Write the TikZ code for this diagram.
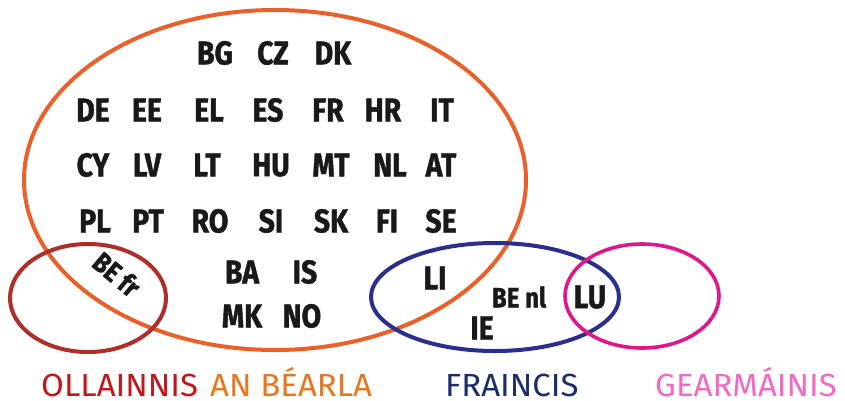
\documentclass[tikz,border=0pt]{standalone}
\usepackage{fontspec}
\setmainfont{Fira Sans}
\newfontfamily\codefont[FakeStretch=0.86, FakeBold=1.2]{Fira Sans}
\newfontfamily\labfont[FakeStretch=1.03]{Fira Sans}
\definecolor{eorange}{HTML}{E9602A}
\definecolor{ered}{HTML}{AE2F2A}
\definecolor{eblue}{HTML}{2B2E8C}
\definecolor{emag}{HTML}{E0168C}
\definecolor{lred}{HTML}{C4161C}
\definecolor{lorange}{HTML}{E8771E}
\definecolor{lnavy}{HTML}{1C2C6A}
\definecolor{lpink}{HTML}{F26BC3}
\tikzset{
  code/.style={inner sep=0pt, font=\codefont\bfseries\fontsize{33}{33}\selectfont, text=black!90},
  smallcode/.style={code, font=\codefont\bfseries\fontsize{28}{28}\selectfont},
  lab/.style={inner sep=0pt, anchor=base west, font=\labfont\fontsize{32}{32}\selectfont},
  ring/.style={line width=4pt}
}
\begin{document}
\begin{tikzpicture}[x=1pt,y=-1pt]
\useasboundingbox[fill=white] (0,0) rectangle (845,400);
% ellipses
\draw[ring, eorange] (275,180) ellipse [x radius=251, y radius=170];
\draw[ring, ered] (88,298) ellipse [x radius=78, y radius=54];
\draw[ring, eblue] (495,297) ellipse [x radius=124, y radius=54];
\draw[ring, emag, line width=3.6pt] (642,296) ellipse [x radius=77, y radius=52];
% country codes
\foreach \t/\x/\y in {BG/215/53, CZ/273/53, DK/333/53,
  DE/93/110, EE/147/110, EL/209/110, ES/268/110, FR/328/110, HR/383/110, IT/442/110,
  CY/93/165, LV/147/165, LT/207/165, HU/271/165, MT/331/165, NL/390/165, AT/441/165,
  PL/95/221, PT/148/221, RO/210/221, SI/271/221, SK/331/221, FI/387/221, SE/441/221,
  BA/242/272, IS/305/272, MK/242/316, NO/302/316,
  LI/435/278, IE/482/328, LU/590/297}
  \node[code] (c\t) at (\x,\y) {\t};
\node[smallcode, rotate=-40] (befr) at (117,274) {BE fr};
\node[smallcode] (benl) at (519,297) {BE nl};
% legend
\node[lab, text=lred] (lol) at (41,396) {OLLAINNIS};
\node[lab, text=lorange] (lan) at (210,396) {AN BÉARLA};
\node[lab, text=lnavy] (lfr) at (445,396) {FRAINCIS};
\node[lab, text=lpink] (lge) at (655,396) {GEARMÁINIS};
\end{tikzpicture}
\end{document}
